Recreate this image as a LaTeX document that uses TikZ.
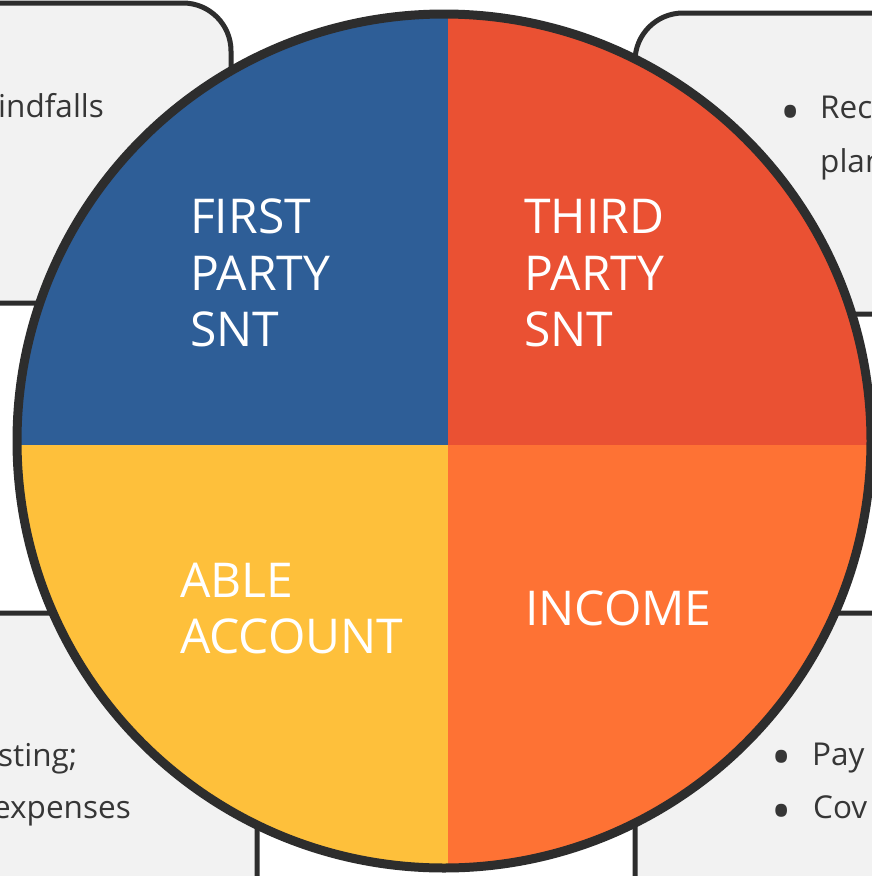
\documentclass[tikz,border=0pt]{standalone}
\usepackage{fontspec}
\setmainfont{Open Sans}
\definecolor{qblue}{HTML}{2E5E97}
\definecolor{qred}{HTML}{EA5133}
\definecolor{qyellow}{HTML}{FEC03B}
\definecolor{qorange}{HTML}{FE7234}
\definecolor{boxfill}{HTML}{F2F2F2}
\definecolor{edgecol}{HTML}{2D2D2D}
\definecolor{boxtext}{HTML}{363636}
\begin{document}
\begin{tikzpicture}[x=1pt,y=-1pt,
  infobox/.style={draw=edgecol, line width=5pt, fill=boxfill, rounded corners=48pt},
  boxline/.style={anchor=base west, inner sep=0pt, text=boxtext, font=\fontsize{31.5}{36}\selectfont},
  bulletdot/.style={anchor=base, inner sep=0pt, text=boxtext, font=\fontsize{54}{60}\selectfont},
  quadlabel/.style={anchor=base west, inner sep=0pt, text=white, font=\fontsize{48}{56}\selectfont}]
\useasboundingbox (0,0) rectangle (872,876);
\clip (0,0) rectangle (872,876);
% side boxes
\draw[infobox] (-300,3) rectangle (231,303);
\draw[infobox] (635,13) rectangle (1200,314);
\draw[infobox] (-300,613) rectangle (257,1100);
\draw[infobox] (635,613) rectangle (1200,1100);
% box texts
\node[boxline] (tl1) at (-2,117) {indfalls};
\node[bulletdot] (trb1) at (791,131) {•};
\node[boxline] (tr1) at (820,118) {Rec};
\node[boxline] (tr2) at (820,172) {plan};
\node[boxline] (bl1) at (-2,766) {sting;};
\node[boxline] (bl2) at (-7,818) {expenses};
\node[bulletdot] (brb1) at (782,776) {•};
\node[boxline] (br1) at (812,765) {Pay};
\node[bulletdot] (brb2) at (782,830) {•};
\node[boxline] (br2) at (813,818) {Cov};
% circle quadrants
\begin{scope}
\clip (444,441) circle (427pt);
\fill[qblue] (-10,-10) rectangle (448,445);
\fill[qred] (448,-10) rectangle (900,445);
\fill[qyellow] (-10,445) rectangle (448,900);
\fill[qorange] (448,445) rectangle (900,900);
\end{scope}
\draw[edgecol, line width=9pt] (444,441) circle (427pt);
% quadrant labels
\node[quadlabel] (fp1) at (190,233) {FIRST};
\node[quadlabel] (fp2) at (190,290) {PARTY};
\node[quadlabel] (fp3) at (190,346) {SNT};
\node[quadlabel] (tp1) at (524,233) {THIRD};
\node[quadlabel] (tp2) at (524,290) {PARTY};
\node[quadlabel] (tp3) at (524,346) {SNT};
\node[quadlabel] (ab1) at (180,597) {ABLE};
\node[quadlabel] (ab2) at (180,653) {ACCOUNT};
\node[quadlabel] (inc) at (525,625) {INCOME};
\end{tikzpicture}
\end{document}
